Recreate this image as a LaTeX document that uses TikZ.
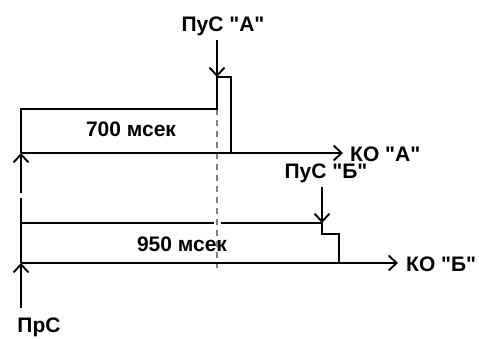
\documentclass[tikz,border=0pt]{standalone}
\usepackage{fontspec}
\setmainfont[Ligatures=TeXOff]{Liberation Sans}
\usetikzlibrary{arrows.meta}
\newcommand{\qq}{\symbol{34}}
\begin{document}
\begin{tikzpicture}[x=1pt,y=-1pt,
  ln/.style={line width=2.3pt,line join=miter},
  arr/.style={ln,-{Straight Barb[length=8pt,width=15pt,line width=1.9pt]}},
  lbl/.style={font=\fontsize{21}{24}\selectfont\bfseries,inner sep=0pt},
  dsh/.style={gray,line width=2pt,dash pattern=on 6pt off 5pt}]
\useasboundingbox (0,0) rectangle (479,338);
% coordinates
\coordinate (a0) at (21,153);
\coordinate (a1) at (21,109);
\coordinate (a2) at (217,109);
\coordinate (a3) at (217,77);
\coordinate (a4) at (231,77);
\coordinate (a5) at (231,153);
\coordinate (aend) at (343,153);
\coordinate (lv1) at (21,193);
\coordinate (lv2) at (21,198);
\coordinate (b0) at (21,263);
\coordinate (b1) at (21,223);
\coordinate (bg1) at (214,223);
\coordinate (bg2) at (221,223);
\coordinate (b2) at (322,223);
\coordinate (b3) at (322,234);
\coordinate (b4) at (339,234);
\coordinate (b5) at (339,263);
\coordinate (bend) at (398,263);
\coordinate (pr) at (21,308);
\coordinate (d1) at (217,109);
\coordinate (d2) at (217,268);
% labels
\node[lbl] (pusa) at (223,26) {ПуС \qq А\qq};
\node[lbl] (pusb) at (326,173) {ПуС \qq Б\qq};
\node[lbl,anchor=west] (koa) at (350,154) {КО \qq А\qq};
\node[lbl,anchor=west] (kob) at (406,264) {КО \qq Б\qq};
\node[lbl] (t700) at (131,129) {700 мсек};
\node[lbl] (t950) at (182,244) {950 мсек};
\node[lbl] (prs) at (39,327) {ПрС};
% dashed reference line
\draw[dsh] (d1) -- (d2);
% channel A
\draw[ln] (a0) -- (a1) -- (a2) -- (a3) -- (a4) -- (a5);
\draw[arr] (a0) -- (aend);
\draw[arr] (lv1) -- (a0);
\draw[arr] (pusa.south -| a3) ++(0,4) -- (a3);
% channel B
\draw[ln] (lv2) -- (b0);
\draw[ln] (b1) -- (bg1);
\draw[ln] (bg2) -- (b2) -- (b3) -- (b4) -- (b5);
\draw[arr] (b0) -- (bend);
\draw[arr] (pr) -- (b0);
\draw[arr] (pusb.south -| b2) ++(0,4) -- (b2);
\end{tikzpicture}
\end{document}
